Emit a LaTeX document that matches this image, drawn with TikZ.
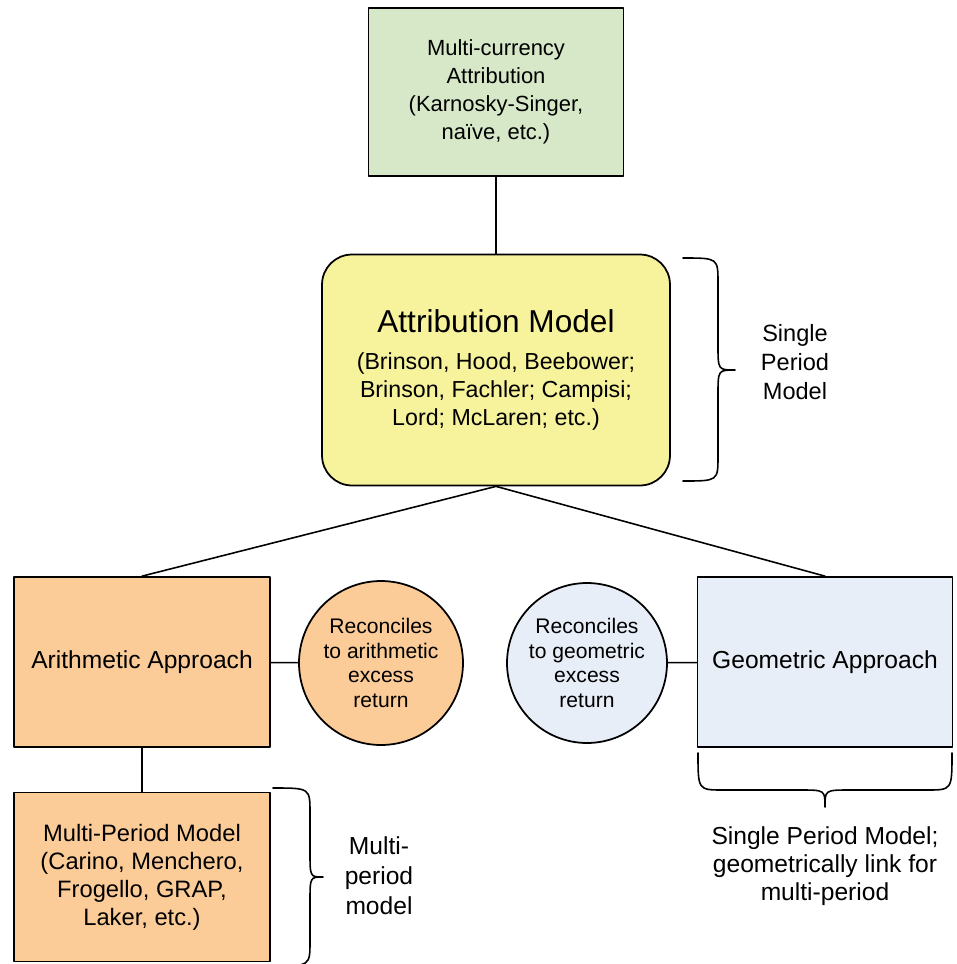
\documentclass[tikz,border=0pt]{standalone}
\usepackage{fontspec}
\setmainfont{Liberation Sans}
\usetikzlibrary{positioning}
\definecolor{curgreen}{RGB}{214,232,200}
\definecolor{attyellow}{RGB}{247,242,156}
\definecolor{aritorange}{RGB}{252,204,152}
\definecolor{geoblue}{RGB}{232,238,247}
\begin{document}
\begin{tikzpicture}[x=0.02cm,y=-0.02cm,line join=round,line cap=round,
  font=\fontsize{14}{16.5}\selectfont,
  box/.style={draw,line width=1pt,align=center,minimum width=5.12cm,minimum height=3.4cm,inner sep=2pt},
  ball/.style={draw,line width=1pt,circle,align=center,minimum size=3.25cm,inner sep=0pt,font=\fontsize{12}{14}\selectfont},
  link/.style={line width=0.9pt},
  brace/.style={line width=0.9pt}]
 \useasboundingbox (0,0) rectangle (957,964);
 % boxes
 \node[box,fill=curgreen,minimum width=5.1cm,minimum height=3.36cm,font=\fontsize{12.5}{16}\selectfont] (curr) at (496,92) {Multi-currency\\Attribution\\(Karnosky-Singer,\\naïve, etc.)};
 \node[box,fill=attyellow,rounded corners=0.6cm,minimum width=6.96cm,minimum height=4.62cm,font=\fontsize{13.2}{15.9}\selectfont] (attr) at (496,370) {{\fontsize{18}{22}\selectfont Attribution Model}\\[5pt](Brinson, Hood, Beebower;\\Brinson, Fachler; Campisi;\\Lord; McLaren; etc.)};
 \node[box,fill=aritorange] (arith) at (142,662) {Arithmetic Approach};
 \node[ball,fill=aritorange,minimum size=3.28cm] (recA) at (381,663) {Reconciles\\to arithmetic\\excess\\return};
 \node[ball,fill=geoblue,minimum size=3.2cm] (recG) at (587,663) {Reconciles\\to geometric\\excess\\return};
 \node[box,fill=geoblue,minimum width=5.1cm] (geom) at (825,662) {Geometric Approach};
 \node[box,fill=aritorange,minimum height=3.38cm,font=\fontsize{13.5}{15.9}\selectfont] (multi) at (142,877) {Multi-Period Model\\(Carino, Menchero,\\Frogello, GRAP,\\Laker, etc.)};
 % links
 \draw[link] (curr) -- (attr);
 \draw[link] (attr.south) -- (arith.north);
 \draw[link] (attr.south) -- (geom.north);
 \draw[link] (arith) -- (recA);
 \draw[link] (recG) -- (geom);
 \draw[link] (arith) -- (multi);
 % braces
 \draw[brace] (683,258) .. controls (718,258) .. (718,283) -- (718,345) .. controls (718,370) .. (735,370) .. controls (718,370) .. (718,395) -- (718,456) .. controls (718,481) .. (683,481);
 \draw[brace] (273,788) .. controls (310,788) .. (310,813) -- (310,852) .. controls (310,877) .. (323,877) .. controls (310,877) .. (310,902) -- (310,941) .. controls (310,966) .. (273,966);
 \draw[brace] (698,753) .. controls (698,790) .. (723,790) -- (800,790) .. controls (825,790) .. (825,807) .. controls (825,790) .. (850,790) -- (927,790) .. controls (952,790) .. (952,753);
 % labels
 \node[align=center,font=\fontsize{13.4}{16.4}\selectfont] (spm) at (795,362) {Single\\Period\\Model};
 \node[align=center,font=\fontsize{14}{17}\selectfont] (mpm) at (379,876) {Multi-\\period\\model};
 \node[align=center,font=\fontsize{14}{15.9}\selectfont] (geolink) at (825,866) {Single Period Model;\\geometrically link for\\multi-period};
\end{tikzpicture}
\end{document}
